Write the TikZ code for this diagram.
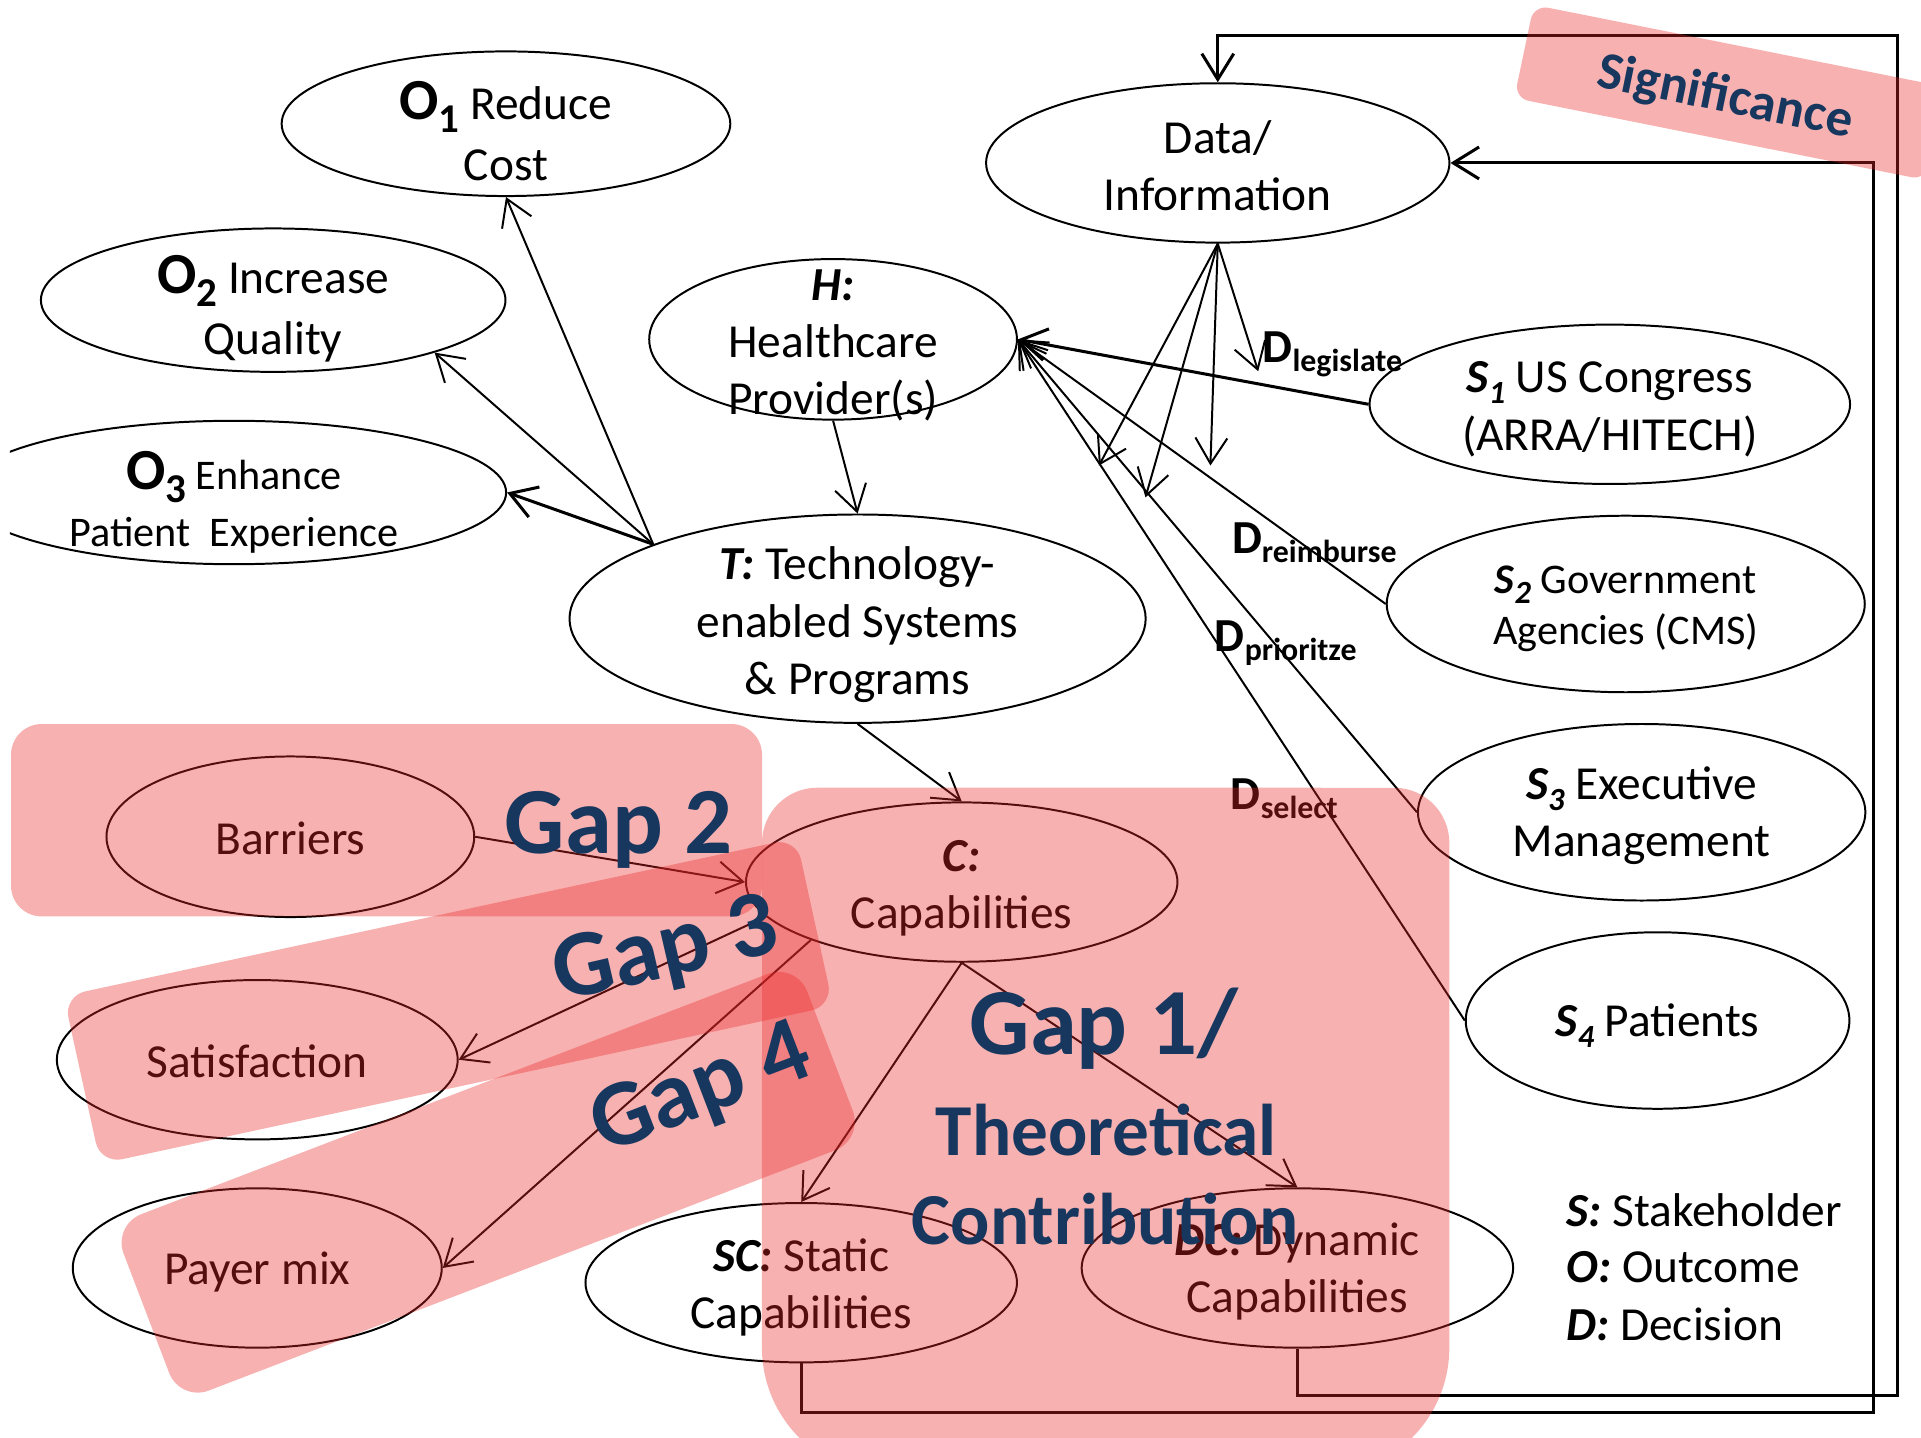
\documentclass[tikz,border=0pt]{standalone}
\usepackage{fontspec}
\setmainfont{Carlito}
\usetikzlibrary{shapes.geometric,arrows.meta}
\definecolor{gapnavy}{RGB}{23,55,94}
\definecolor{gapred}{RGB}{235,40,40}

% outcome label: large bold O with a subscript
\newcommand{\Olab}[1]{{\fontsize{13.5}{16}\selectfont\bfseries O\raisebox{-3pt}{\fontsize{9.5}{10}\selectfont #1}}}
% stakeholder label: bold italic S with a subscript
\newcommand{\Slab}[1]{{\bfseries\itshape S\raisebox{-2.5pt}{\fontsize{7.5}{8}\selectfont #1}}}
% decision label: bold D with a subscript word
\newcommand{\Dlab}[1]{{\bfseries D\raisebox{-2pt}{\fontsize{7.4}{8}\selectfont #1}}}
\newcommand{\bitxt}[1]{{\bfseries\itshape #1}}

\begin{document}
\begin{tikzpicture}[x=0.01cm, y=-0.01cm,
  ell/.style={draw, ellipse, inner sep=0pt, line width=0.46pt},
  txt/.style={inner sep=0pt, align=center, font=\fontsize{11}{13.3}\selectfont},
  otxt/.style={txt, font=\fontsize{11}{14.2}\selectfont},
  smalltxt/.style={txt, font=\fontsize{9.8}{12}\selectfont},
  dlabel/.style={inner sep=0pt, anchor=base west, font=\fontsize{11}{13}\selectfont},
  legtxt/.style={inner sep=0pt, anchor=base west, font=\fontsize{11}{13}\selectfont},
  link/.style={line width=0.46pt, -{Straight Barb[length=0.21cm,width=0.26cm]}},
  thicklink/.style={link, line width=0.7pt},
  gapzone/.style={fill=gapred, fill opacity=0.36},
  gaptxt/.style={inner sep=0pt, text=gapnavy, font=\fontsize{22}{26}\selectfont\bfseries},
  gapsmall/.style={gaptxt, font=\fontsize{17}{20}\selectfont\bfseries},
]
\useasboundingbox (0,0) rectangle (1568,1173);
\begin{scope}
\clip (8,0) rectangle (1568,1173);

% ---------- ellipses ----------
\node[ell, minimum width=3.66cm, minimum height=1.18cm] (O1) at (413,101) {};
\node[ell, minimum width=3.79cm, minimum height=1.17cm] (O2) at (223,245) {};
\node[ell, minimum width=4.44cm, minimum height=1.17cm] (O3) at (191,402) {};
\node[ell, minimum width=3.78cm, minimum height=1.30cm] (Data) at (994,133) {};
\node[ell, minimum width=3.00cm, minimum height=1.31cm] (H) at (680,277) {};
\node[ell, minimum width=4.70cm, minimum height=1.70cm] (T) at (700,505) {};
\node[ell, minimum width=3.92cm, minimum height=1.30cm] (S1) at (1314,330) {};
\node[ell, minimum width=3.90cm, minimum height=1.44cm] (S2) at (1327,493) {};
\node[ell, minimum width=3.65cm, minimum height=1.44cm] (S3) at (1340,663) {};
\node[ell, minimum width=3.13cm, minimum height=1.44cm] (S4) at (1353,833) {};
\node[ell, minimum width=3.00cm, minimum height=1.31cm] (Bar) at (237,683) {};
\node[ell, minimum width=3.52cm, minimum height=1.30cm] (C) at (785,720) {};
\node[ell, minimum width=3.27cm, minimum height=1.30cm] (Sat) at (210,865) {};
\node[ell, minimum width=3.01cm, minimum height=1.30cm] (Pay) at (210,1035) {};
\node[ell, minimum width=3.52cm, minimum height=1.30cm] (SC) at (654,1047) {};
\node[ell, minimum width=3.52cm, minimum height=1.30cm] (DC) at (1059,1035) {};

% ---------- texts inside the ellipses ----------
\node[otxt] (O1t) at (413,107) {\Olab{1} Reduce\\Cost};
\node[otxt] (O2t) at (223,252) {\Olab{2} Increase\\Quality};
\node[smalltxt, font=\fontsize{9.8}{13.4}\selectfont] (O3t) at (191,410) {\Olab{3} Enhance\\Patient\ \ Experience};
\node[txt] (Datat) at (994,135) {Data/\\Information};
\node[txt] (Ht) at (680,282) {\bitxt{H:}\\Healthcare\\Provider(s)};
\node[txt] (Tt) at (700,510) {\bitxt{T:} Technology-\\enabled Systems\\\& Programs};
\node[txt] (S1t) at (1314,334) {\Slab{1} US Congress\\(ARRA/HITECH)};
\node[smalltxt] (S2t) at (1327,497) {\Slab{2} Government\\Agencies (CMS)};
\node[txt] (S3t) at (1340,666) {\Slab{3} Executive\\Management};
\node[txt] (S4t) at (1353,837) {\Slab{4} Patients};
\node[txt] (Bart) at (237,684) {Barriers};
\node[txt] (Ct) at (785,725) {\bitxt{C:}\\Capabilities};
\node[txt] (Satt) at (210,866) {Satisfaction};
\node[txt] (Payt) at (210,1038) {Payer mix};
\node[txt] (SCt) at (654,1051) {\bitxt{SC:} Static\\Capabilities};
\node[txt] (DCt) at (1059,1038) {\bitxt{DC:} Dynamic\\Capabilities};

% ---------- legend ----------
\node[legtxt] (leg1) at (1278,1001) {\bitxt{S:} Stakeholder};
\node[legtxt] (leg2) at (1278,1047) {\bitxt{O:} Outcome};
\node[legtxt] (leg3) at (1278,1094) {\bitxt{D:} Decision};

% ---------- decision labels ----------
\node[dlabel] (Dleg) at (1030,296) {\Dlab{legislate}};
\node[dlabel] (Drei) at (1005,452) {\Dlab{reimburse}};
\node[dlabel] (Dpri) at (991,532) {\Dlab{prioritze}};
\node[dlabel] (Dsel) at (1004,661) {\Dlab{select}};

% ---------- technology to outcomes ----------
\draw[link] (T.160) -- (O1.south);
\draw[link] (T.160) -- (O2.-18);
\draw[thicklink] (T.160) -- (O3.east);
\draw[link] (H.south) -- (T.north);
\draw[link] (T.south) -- (C.north);

% ---------- stakeholders to healthcare provider ----------
\draw[thicklink] (S1.west) -- (H.east);
\draw[link] (S2.west) -- (H.east);
\draw[link] (S3.west) -- (H.east);
\draw[link] (S4.west) -- (H.east);

% ---------- data informing the decisions ----------
\coordinate (dd1) at (1027,303);
\coordinate (dd2) at (988,380);
\coordinate (dd3) at (935,406);
\coordinate (dd4) at (897,380);
\draw[link] (Data.south) -- (dd1);
\draw[link] (Data.south) -- (dd2);
\draw[link] (Data.south) -- (dd3);
\draw[link] (Data.south) -- (dd4);

% ---------- capabilities ----------
\draw[link] (Bar.east) -- (C.west);
\draw[link] (C.190) -- (Sat.east);
\draw[link] (C.201) -- (Pay.east);
\draw[link] (C.south) -- (SC.north);
\draw[link] (C.south) -- (DC.north);

% ---------- feedback loops to data ----------
\coordinate (outerB) at (1549,1139);
\coordinate (outerT) at (1549,29);
\coordinate (innerB) at (1529,1153);
\draw[thicklink] (DC.south) |- (outerB) -- (outerT) -| (Data.north);
\draw[thicklink] (SC.south) |- (innerB) |- (Data.east);

% ---------- highlighted gap zones ----------
\fill[gapzone, rounded corners=0.25cm] (9,591) rectangle (622,748);
\fill[gapzone] (622,688) arc[start angle=180, end angle=90, radius=0.45cm]
  -- (1138,643) arc[start angle=90, end angle=0, radius=0.45cm]
  -- (1183,1100) arc[start angle=0, end angle=-90, radius=1.04cm]
  -- (726,1204) arc[start angle=-90, end angle=-180, radius=1.04cm] -- cycle;
\fill[gapzone, rounded corners=0.18cm] (52,813) -- (650,684) -- (680,821) -- (82,950) -- cycle;
\fill[gapzone, rounded corners=0.25cm] (92,1000) -- (650,786) -- (705,930) -- (147,1144) -- cycle;
\fill[gapzone, rounded corners=0.12cm] (1252,4) -- (1588,71) -- (1572,147) -- (1236,80) -- cycle;

% ---------- gap captions ----------
\node[gaptxt] (gap2) at (505,677) {Gap 2};
\node[gaptxt, rotate=13] (gap3) at (544,778) {Gap 3};
\node[gaptxt, rotate=21] (gap4) at (573,891) {Gap 4};
\node[gaptxt] (gap1) at (901,840) {Gap 1/};
\node[gapsmall] (theo) at (903,922) {Theoretical};
\node[gapsmall] (contr) at (902,995) {Contribution};
\node[gaptxt, font=\fontsize{12.3}{15}\selectfont\bfseries, rotate=-11.5] (signif) at (1408,80) {Significance};
\end{scope}
\end{tikzpicture}
\end{document}
